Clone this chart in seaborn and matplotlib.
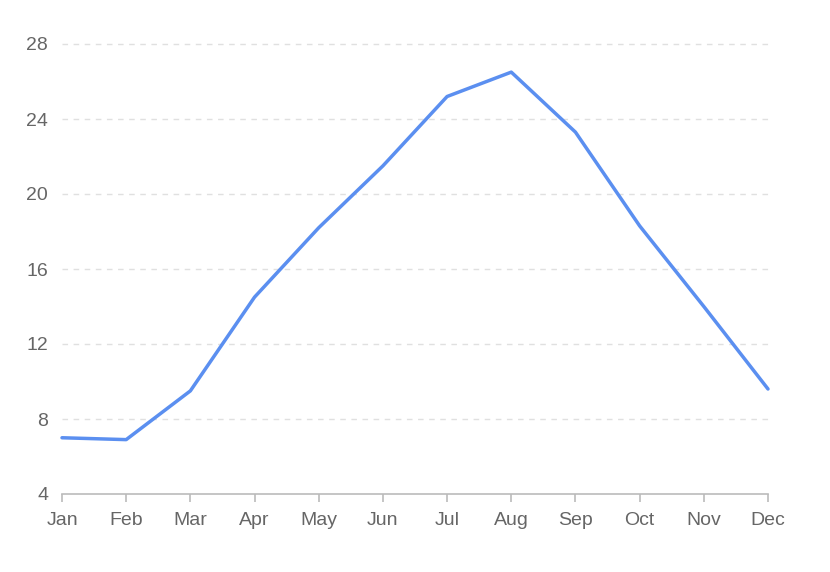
import matplotlib
matplotlib.use("Agg")
import matplotlib.pyplot as plt
import seaborn as sns
import pandas as pd

months = ["Jan", "Feb", "Mar", "Apr", "May", "Jun", "Jul", "Aug", "Sep", "Oct", "Nov", "Dec"]
temps = [7.0, 6.9, 9.5, 14.5, 18.2, 21.5, 25.2, 26.5, 23.3, 18.3, 14.0, 9.6]
yticks = [4, 8, 12, 16, 20, 24, 28]

sns.set_theme(style="white")
plt.rcParams["font.family"] = ["Liberation Sans", "DejaVu Sans"]

df = pd.DataFrame({"month": months, "temp": temps, "idx": range(len(months))})

fig = plt.figure(figsize=(8.3, 5.72), dpi=100)
ax = fig.add_axes([62/830, 1-494/572, (768-62)/830, 450/572])

for t in yticks[1:]:
    ax.axhline(t, color="#e0e0e0", lw=1, ls=(0, (4, 4)), zorder=0)

sns.lineplot(data=df, x="idx", y="temp", ax=ax, color="#5b8ff0", lw=2.5, zorder=3)
for ln in ax.lines:
    ln.set_clip_on(False)

ax.set_xlim(0, len(months) - 1)
ax.set_ylim(4, 28)
ax.set_xticks(range(len(months)))
ax.set_xticklabels(months)
ax.set_yticks(yticks)
ax.set_xlabel("")
ax.set_ylabel("")
for s in ["top", "right", "left"]:
    ax.spines[s].set_visible(False)
ax.spines["bottom"].set_color("#bbbbbb")
ax.spines["bottom"].set_linewidth(1.2)
ax.tick_params(axis="x", bottom=True, length=6, width=1.2, color="#bbbbbb",
               labelsize=14, labelcolor="#666666", pad=7)
ax.tick_params(axis="y", left=False, labelsize=14, labelcolor="#666666", pad=4)
ax.set_facecolor("white")
fig.patch.set_facecolor("white")

fig.savefig("out.png", dpi=100)
